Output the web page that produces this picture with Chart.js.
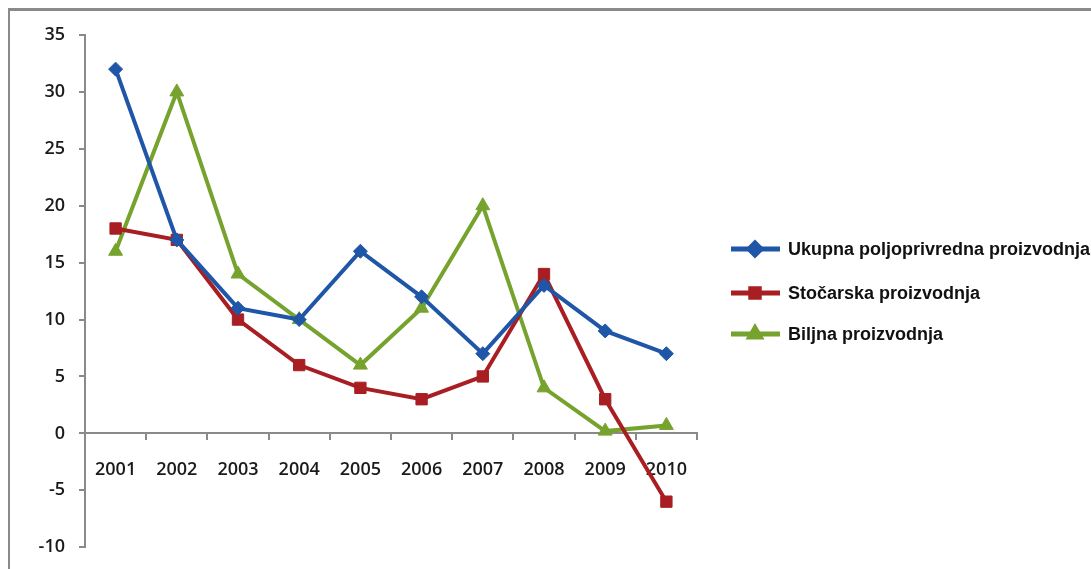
<!DOCTYPE html>
<html>
<head>
<meta charset="utf-8">
<script src="https://cdn.jsdelivr.net/npm/chart.js@4/dist/chart.umd.min.js"></script>
<style>
  html, body { margin: 0; padding: 0; background: #fff; }
  #wrap { position: relative; width: 1091px; height: 569px; overflow: hidden; }
  #frame { position: absolute; left: 8px; top: 8px; right: -10px; bottom: -10px;
           border-top: 3px solid #8a8a8a; border-left: 2px solid #8a8a8a; }
  #chart { position: absolute; left: 0; top: 0; }
</style>
</head>
<body>
<div id="wrap">
  <div id="frame"></div>
  <canvas id="chart" width="1091" height="572"></canvas>
</div>
<script>
// Categories and series
const years = ['2001', '2002', '2003', '2004', '2005', '2006', '2007', '2008', '2009', '2010'];
const ukupna = [32, 17, 11, 10, 16, 12, 7, 13, 9, 7];
const stocarska = [18, 17, 10, 6, 4, 3, 5, 14, 3, -6];
const biljna = [16, 30, 14, 10, 6, 11, 20, 4, 0.2, 0.7];
const seriesNames = ['Ukupna poljoprivredna proizvodnja', 'Stočarska proizvodnja', 'Biljna proizvodnja'];
const yTicks = [35, 30, 25, 20, 15, 10, 5, 0, -5, -10];

const colors = ['#1f56a7', '#a81e22', '#76a22e'];
const markers = ['rectRot', 'rect', 'triangle'];
const radii = [7, 8, 8];

// Draws the legend on the right like the original (line + marker + bold text)
const sideLegend = {
    id: 'sideLegend',
    afterDraw(chart) {
        const ctx = chart.ctx;
        const rows = [249, 293, 334];
        chart.data.datasets.forEach((ds, i) => {
            const y = rows[i];
            ctx.save();
            ctx.strokeStyle = ds.borderColor;
            ctx.lineWidth = 5;
            ctx.beginPath();
            ctx.moveTo(731, y);
            ctx.lineTo(780, y);
            ctx.stroke();
            Chart.helpers.drawPoint(ctx, {
                pointStyle: ds.pointStyle, radius: 6, borderWidth: 1
            }, 755, y);
            ctx.fillStyle = ds.borderColor;
            ctx.fill();
            ctx.fillStyle = '#111';
            ctx.font = 'bold 18px "Liberation Sans", sans-serif';
            ctx.textBaseline = 'middle';
            ctx.fillText(ds.label, 788, y + 1);
            ctx.restore();
        });
    }
};

const datasets = [ukupna, stocarska, biljna].map((vals, i) => ({
    label: seriesNames[i],
    data: vals,
    borderColor: colors[i],
    backgroundColor: colors[i],
    borderWidth: 4,
    pointStyle: markers[i],
    pointRadius: radii[i],
    pointHoverRadius: radii[i],
    pointBorderWidth: 1,
    tension: 0
}));

new Chart(document.getElementById('chart'), {
    type: 'line',
    data: { labels: years, datasets: datasets },
    plugins: [sideLegend],
    options: {
        responsive: false,
        animation: false,
        events: [],
        layout: { padding: { left: 0, right: 394, top: 35, bottom: 14 } },
        plugins: { legend: { display: false }, tooltip: { enabled: false } },
        scales: {
            x: {
                position: { y: 0 },
                offset: true,
                grid: { drawOnChartArea: false, drawTicks: true, tickLength: 6, offset: true, color: '#8a8a8a', lineWidth: 2 },
                border: { color: '#8a8a8a', width: 2 },
                ticks: { color: '#1a1a1a', font: { family: '"Open Sans", sans-serif', size: 18, weight: '600' }, padding: 20, maxRotation: 0 }
            },
            y: {
                min: -10,
                max: 35,
                afterFit: s => { s.width = 85; },
                afterBuildTicks: s => { s.ticks = yTicks.map(v => ({ value: v })); },
                grid: { drawOnChartArea: false, drawTicks: true, tickLength: 6, color: '#8a8a8a', lineWidth: 2 },
                border: { color: '#8a8a8a', width: 2 },
                ticks: { color: '#1a1a1a', font: { family: '"Open Sans", sans-serif', size: 18, weight: '600' }, padding: 14 }
            }
        }
    }
});
</script>
</body>
</html>
